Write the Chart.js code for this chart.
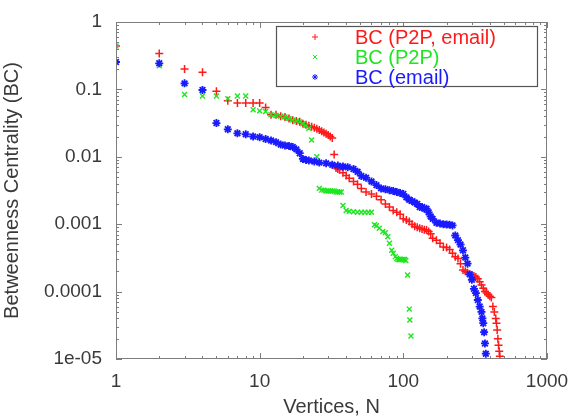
<!DOCTYPE html>
<html>
<head>
<meta charset="utf-8">
<title>Betweenness Centrality</title>
<script src="https://cdn.jsdelivr.net/npm/chart.js@4.4.1/dist/chart.umd.min.js"></script>
<style>
  html, body { margin: 0; padding: 0; background: #fff; }
</style>
</head>
<body>
<canvas id="bcChart" width="573" height="419"></canvas>
<script>
// Rango del vértice y su BC
const rankP2PEmail = [1,2,3,4,5,6,7,8,9,10,11,12,13,14,15,16,17,18,19,20,21,22,23,24,25,26,27,28,29,30,31,32,33,34,35,36,38,40,42,45,48,51,55,60,65,70,75,80,85,90,95,100,105,110,115,120,125,130,135,140,145,150,155,160,170,180,190,200,210,220,230,240,250,260,270,280,290,300,310,320,330,340,350,360,370,380,390,400,410,420,430,440,445,450,455,460,465,470];
const bcP2PEmail = [0.44,0.34,0.20,0.179,0.094,0.068,0.063,0.063,0.063,0.063,0.054,0.042,0.042,0.040,0.039,0.037,0.035,0.034,0.033,0.031,0.030,0.029,0.028,0.027,0.026,0.025,0.024,0.023,0.022,0.021,0.020,0.019,0.0108,0.0068,0.0066,0.0064,0.0058,0.0053,0.0048,0.0043,0.0039,0.0034,0.0030,0.0028,0.0026,0.0023,0.0020,0.0018,0.0016,0.0015,0.0014,0.0012,0.00115,0.0011,0.0010,0.00093,0.0009,0.00087,0.00085,0.00083,0.00082,0.00078,0.00072,0.00062,0.00058,0.00052,0.00046,0.00045,0.00042,0.00037,0.00033,0.00031,0.00026,0.00021,0.00020,0.00019,0.00018,0.000176,0.000170,0.000165,0.000155,0.00014,0.000125,0.000112,0.0001,0.000095,0.00009,0.000085,0.000082,0.00006,0.00005,0.00004,0.000034,0.000027,0.00002,0.000016,0.000013,0.000011];

const rankP2P = [1,2,3,4,5,6,7,8,9,10,11,12,13,14,15,16,17,18,19,20,21,22,23,25,26,27,28,29,30,31,32,33,34,35,36,37,38,40,42,45,48,51,54,57,60,63,65,68,72,75,78,80,83,85,88,90,92,94,96,98,100,102,104,107,110,111,113];
const bcP2P = [0.44,0.225,0.084,0.080,0.080,0.073,0.080,0.080,0.050,0.048,0.047,0.042,0.041,0.040,0.039,0.037,0.035,0.034,0.033,0.031,0.029,0.0265,0.0177,0.010,0.0034,0.0032,0.0032,0.0031,0.0031,0.0031,0.0031,0.0031,0.0030,0.0030,0.0030,0.0030,0.0019,0.0016,0.00155,0.00153,0.0015,0.0015,0.0015,0.0015,0.0015,0.00098,0.00095,0.00087,0.00078,0.00075,0.00065,0.00052,0.00041,0.00037,0.00033,0.00031,0.0003,0.0003,0.0003,0.0003,0.0003,0.0003,0.00029,0.000176,0.000055,0.000038,0.000022];

const rankEmail = [1,2,3,4,5,6,7,8,9,10,11,12,13,14,15,16,17,18,19,20,21,22,24,26,29,32,35,38,41,45,48,51,55,60,65,70,75,80,85,90,95,100,105,110,115,120,125,130,135,140,145,150,155,160,170,180,190,200,210,220,230,240,250,260,270,280,290,300,310,320,330,340,350,355,360,365,370,375];
const bcEmail = [0.255,0.244,0.123,0.098,0.0317,0.0256,0.0223,0.0216,0.020,0.0195,0.0184,0.0175,0.0165,0.0152,0.0147,0.0145,0.014,0.0129,0.0113,0.0093,0.0090,0.0088,0.0085,0.0082,0.0080,0.0076,0.0074,0.0072,0.0070,0.0066,0.0060,0.0052,0.0049,0.0043,0.0038,0.0034,0.0033,0.0032,0.0031,0.0030,0.0029,0.0028,0.0025,0.0023,0.0022,0.0021,0.0020,0.0018,0.0018,0.0017,0.0017,0.0015,0.0013,0.0012,0.00105,0.00102,0.0010,0.00099,0.00098,0.00096,0.00068,0.00058,0.00050,0.00041,0.00032,0.00026,0.00018,0.00015,0.00011,0.000095,0.000075,0.00006,0.00005,0.00004,0.000034,0.000025,0.000017,0.000012];

const xTicks = [1, 10, 100, 1000];
const xTickLabels = ['1', '10', '100', '1000'];
const yTicks = [1e-5, 1e-4, 1e-3, 1e-2, 1e-1, 1];
const yTickLabels = ['1e-05', '0.0001', '0.001', '0.01', '0.1', '1'];

const fuente = "'Liberation Sans', Arial, sans-serif";
const colorEje = '#7d7d7d';
const colorTexto = '#3a3a3a';

function puntos(xs, ys) {
    return xs.map((x, i) => ({ x: x, y: ys[i] }));
}

// Marco con marcas hacia adentro (estilo gnuplot) y leyenda dentro del área
const marcoYLeyenda = {
    id: 'marcoYLeyenda',
    afterDatasetsDraw(chart) {
        const { ctx, chartArea: a, scales: { x, y } } = chart;
        ctx.save();
        ctx.strokeStyle = colorEje;
        ctx.lineWidth = 1;
        ctx.strokeRect(a.left + 0.5, a.top + 0.5, a.right - a.left - 1, a.bottom - a.top - 1);

        ctx.beginPath();
        for (let d = 0; d < 3; d++) {
            for (let m = 1; m <= 10; m++) {
                const v = Math.pow(10, d) * m;
                const px = Math.round(x.getPixelForValue(v)) + 0.5;
                const len = (m === 1 || m === 10) ? 6 : 3;
                ctx.moveTo(px, a.bottom); ctx.lineTo(px, a.bottom - len);
                ctx.moveTo(px, a.top); ctx.lineTo(px, a.top + len);
            }
        }
        for (let d = -5; d < 0; d++) {
            for (let m = 1; m <= 10; m++) {
                const v = Math.pow(10, d) * m;
                const py = Math.round(y.getPixelForValue(v)) + 0.5;
                const len = (m === 1 || m === 10) ? 6 : 3;
                ctx.moveTo(a.left, py); ctx.lineTo(a.left + len, py);
                ctx.moveTo(a.right, py); ctx.lineTo(a.right - len, py);
            }
        }
        ctx.stroke();

        // Leyenda
        const caja = { left: 276, top: 26, right: 537, bottom: 86 };
        ctx.fillStyle = '#fff';
        ctx.fillRect(caja.left, caja.top, caja.right - caja.left, caja.bottom - caja.top);
        ctx.strokeStyle = '#555';
        ctx.lineWidth = 1.2;
        ctx.strokeRect(caja.left + 0.5, caja.top + 0.5, caja.right - caja.left, caja.bottom - caja.top);

        ctx.font = '20px ' + fuente;
        ctx.textBaseline = 'middle';
        ctx.textAlign = 'left';
        chart.data.datasets.forEach((ds, i) => {
            const cy = 37 + i * 20;
            ctx.strokeStyle = ds.borderColor;
            ctx.fillStyle = ds.borderColor;
            ctx.lineWidth = 1;
            Chart.helpers.drawPoint(ctx, { pointStyle: ds.pointStyle, radius: 3, borderWidth: 1 }, 315, cy);
            ctx.fillStyle = ds.borderColor;
            ctx.fillText(ds.label, 355, cy + 1);
        });
        ctx.restore();
    }
};

new Chart(document.getElementById('bcChart'), {
    type: 'scatter',
    data: {
        datasets: [
            {
                label: 'BC (P2P, email)',
                data: puntos(rankP2PEmail, bcP2PEmail),
                borderColor: '#ff1a1a',
                backgroundColor: '#ff1a1a',
                pointStyle: 'cross',
                pointRadius: 4,
                borderWidth: 1.5,
                order: 3
            },
            {
                label: 'BC (P2P)',
                data: puntos(rankP2P, bcP2P),
                borderColor: '#1ee61e',
                backgroundColor: '#1ee61e',
                pointStyle: 'crossRot',
                pointRadius: 3.5,
                borderWidth: 1.4,
                order: 2
            },
            {
                label: 'BC (email)',
                data: puntos(rankEmail, bcEmail),
                borderColor: '#1a1aff',
                backgroundColor: '#1a1aff',
                pointStyle: 'star',
                pointRadius: 4,
                borderWidth: 1.8,
                order: 1
            }
        ]
    },
    options: {
        responsive: false,
        animation: false,
        devicePixelRatio: 1,
        layout: { padding: { top: 22, right: 26, left: 0, bottom: 0 } },
        plugins: {
            legend: { display: false },
            tooltip: { enabled: false }
        },
        scales: {
            x: {
                type: 'logarithmic',
                min: 1,
                max: 1000,
                grid: { display: false, drawTicks: false },
                border: { display: false },
                afterBuildTicks: (scale) => { scale.ticks = xTicks.map(v => ({ value: v })); },
                afterFit: (scale) => { scale.height = 60; scale.paddingLeft = 0; scale.paddingRight = 0; },
                ticks: {
                    padding: 11,
                    maxRotation: 0,
                    autoSkip: false,
                    color: colorTexto,
                    font: { family: fuente, size: 19 },
                    callback: (v, i) => xTickLabels[i]
                },
                title: {
                    display: true,
                    text: 'Vertices, N',
                    color: colorTexto,
                    font: { family: fuente, size: 20 },
                    padding: { top: 0, bottom: 0 }
                }
            },
            y: {
                type: 'logarithmic',
                min: 1e-5,
                max: 1,
                grid: { display: false, drawTicks: false },
                border: { display: false },
                afterBuildTicks: (scale) => { scale.ticks = yTicks.map(v => ({ value: v })); },
                afterFit: (scale) => { scale.width = 116; scale.paddingTop = 0; scale.paddingBottom = 0; },
                ticks: {
                    padding: 14,
                    autoSkip: false,
                    color: colorTexto,
                    font: { family: fuente, size: 19 },
                    callback: (v, i) => yTickLabels[i]
                },
                title: {
                    display: true,
                    text: 'Betweenness Centrality (BC)',
                    color: colorTexto,
                    font: { family: fuente, size: 20 },
                    padding: { top: 0, bottom: 0 }
                }
            }
        }
    },
    plugins: [marcoYLeyenda]
});
</script>
</body>
</html>
